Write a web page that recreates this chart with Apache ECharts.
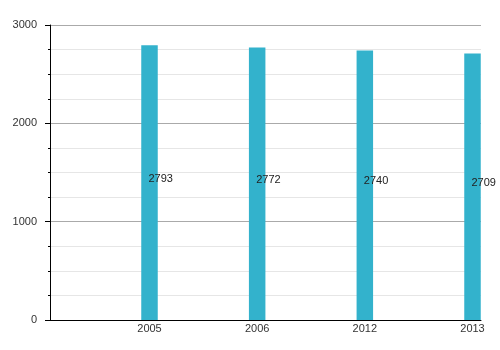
<!DOCTYPE html>
<html><head><meta charset="utf-8">
<script src="https://cdn.jsdelivr.net/npm/echarts@6/dist/echarts.min.js"></script>
<style>html,body{margin:0;padding:0;background:#fff}#c{width:500px;height:350px}</style>
</head><body><div id="c"></div>
<script>
var categories = ['2005', '2006', '2012', '2013'];
var values = [2793, 2772, 2740, 2709];
var yTicks = [0, 1000, 2000, 3000];

var chart = echarts.init(document.getElementById('c'), null, {renderer: 'canvas'});
var font = 'Liberation Sans, Arial, sans-serif';
chart.setOption({
  animation: false,
  grid: [
    {left: 50, right: 19, top: 25, bottom: 30},
    {left: 149.5, right: 27.5, top: 25, bottom: 30}
  ],
  xAxis: [
    {type: 'value', gridIndex: 0, min: 0, max: 1, axisLabel: {show: false}, axisTick: {show: false},
     splitLine: {show: false}, axisLine: {show: true, lineStyle: {color: '#000', width: 1}}},
    {type: 'category', gridIndex: 1, data: categories, boundaryGap: false,
     axisLine: {show: false}, axisTick: {show: false}, splitLine: {show: false},
     axisLabel: {color: '#333', fontSize: 11, fontFamily: font, margin: 3, interval: 0}}
  ],
  yAxis: [
    {type: 'value', gridIndex: 0, min: yTicks[0], max: yTicks[yTicks.length - 1], interval: 1000,
     axisLine: {show: true, lineStyle: {color: '#000', width: 1}},
     axisTick: {show: true, length: 5, lineStyle: {color: '#000'}},
     minorTick: {show: true, splitNumber: 4, length: 2, lineStyle: {color: '#000'}},
     splitLine: {show: true, lineStyle: {color: '#aaa', width: 1}},
     minorSplitLine: {show: true, lineStyle: {color: '#e6e6e6', width: 1}},
     axisLabel: {color: '#333', fontSize: 11, fontFamily: font, margin: 13,
                 formatter: function (v) { return String(v); }}},
    {type: 'value', gridIndex: 1, min: yTicks[0], max: yTicks[yTicks.length - 1], show: false}
  ],
  series: [{
    type: 'bar', xAxisIndex: 1, yAxisIndex: 1, data: values, barWidth: 16.5, clip: false,
    itemStyle: {color: '#33b2cc'},
    label: {show: true, position: ['50%', '50%'], align: 'left', verticalAlign: 'middle',
            offset: [-1, -4], color: '#222', fontSize: 11, fontFamily: font}
  }]
});
</script></body></html>
